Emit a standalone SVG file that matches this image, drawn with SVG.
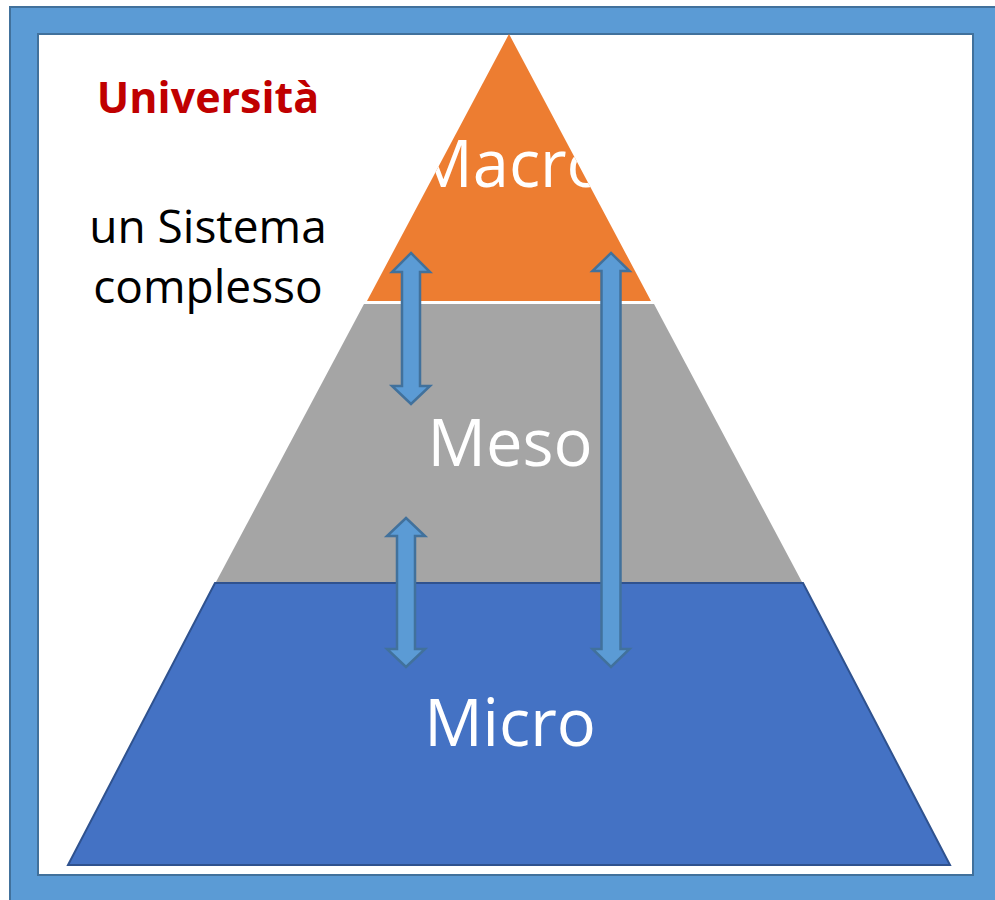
<svg xmlns="http://www.w3.org/2000/svg" width="995" height="900" viewBox="0 0 995 900">
  <style>
    .lvl { font-family: "Open Sans", "Liberation Sans", sans-serif; font-size: 65px; fill: #FFFFFF; text-anchor: middle; }
    .side { font-family: "Open Sans", "Liberation Sans", sans-serif; font-size: 46px; fill: #000000; text-anchor: middle; }
    .title { font-family: "Open Sans", "Liberation Sans", sans-serif; font-size: 43px; font-weight: bold; fill: #C00000; text-anchor: middle; }
    .arrow { fill: #5B9BD5; stroke: #41719C; stroke-width: 2.5; stroke-linejoin: miter; }
  </style>
  <defs>
    <clipPath id="macroClip">
      <polygon points="509,34 367,301 651,301"/>
    </clipPath>
  </defs>

  <g id="frame">
    <rect x="10" y="7" width="1000" height="910" fill="#5B9BD5" stroke="#41719C" stroke-width="2"/>
    <rect x="38" y="34" width="935" height="841" fill="#FFFFFF" stroke="#41719C" stroke-width="2"/>
  </g>

  <g id="micro">
    <polygon points="215,583 803,583 950,865 68,865" fill="#4472C4" stroke="#2F528F" stroke-width="2"/>
    <text class="lvl" x="510" y="746">Micro</text>
  </g>

  <g id="meso">
    <polygon points="364,304 654,304 802,582 216,582" fill="#A5A5A5"/>
    <text class="lvl" x="510" y="466">Meso</text>
  </g>

  <g id="macro">
    <polygon points="509,34 367,301 651,301" fill="#ED7D31"/>
    <text class="lvl" x="510" y="187" clip-path="url(#macroClip)">Macro</text>
  </g>

  <g id="label">
    <text class="title" x="208" y="113">Università</text>
    <text class="side" x="208" y="243">un Sistema</text>
    <text class="side" x="208" y="303">complesso</text>
  </g>

  <g id="connectors">
    <polygon class="arrow" points="411,253 430,272 420,272 420,386 430,386 411,404 392,386 402,386 402,272 392,272"/>
    <polygon class="arrow" points="611,253 629.5,271 620.5,271 620.5,649 629.5,649 611,667 592.5,649 601.5,649 601.5,271 592.5,271"/>
    <polygon class="arrow" points="406,518 425,536 415,536 415,649 425,649 406,667 387,649 397,649 397,536 387,536"/>
  </g>
</svg>
